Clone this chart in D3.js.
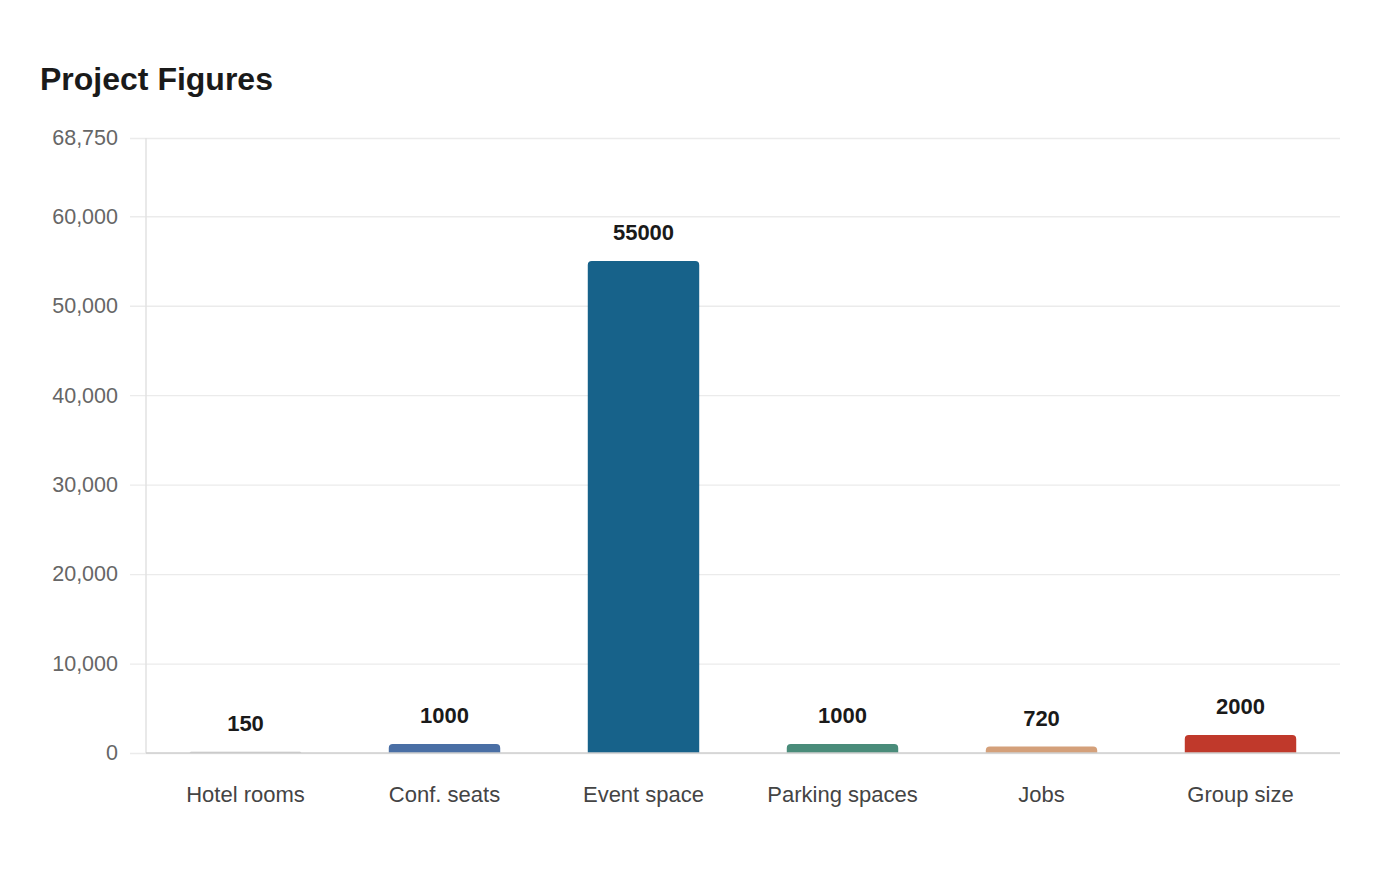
<!DOCTYPE html>
<html>
<head>
<meta charset="utf-8">
<script src="https://cdn.jsdelivr.net/npm/d3@7"></script>
<style>
  body { margin: 0; background: #fff; }
  svg { display: block; font-family: 'Liberation Sans', Arial, sans-serif; }
</style>
</head>
<body>
<svg id="chart" width="1400" height="880"></svg>
<script>
var categories = ['Hotel rooms', 'Conf. seats', 'Event space', 'Parking spaces', 'Jobs', 'Group size']
  , values = [150, 1000, 55000, 1000, 720, 2000]
  , colors = ['#bdbdbd', '#4a6fa5', '#17628a', '#4a8c7a', '#d4a07a', '#c0392b']
  , yTicks = [0, 10000, 20000, 30000, 40000, 50000, 60000, 68750]

var margin = {top: 138, right: 60, bottom: 127, left: 146}
  , width = 1400 - margin.left - margin.right
  , height = 880 - margin.top - margin.bottom

var svg = d3.select('#chart')

svg.append('text')
  .attr('x', 40)
  .attr('y', 90)
  .attr('font-size', '32px')
  .attr('font-weight', 'bold')
  .attr('fill', '#1a1a1a')
  .text('Project Figures')

var g = svg.append('g')
  .attr('transform', 'translate(' + margin.left + ',' + margin.top + ')')

var x = d3.scaleBand()
  .domain(categories)
  .range([0, width])
  .paddingInner(0.44)
  .paddingOuter(0.22)

var y = d3.scaleLinear()
  .domain([0, 68750])
  .range([height, 0])

// grid + y labels
var yAxis = g.append('g')
  .call(d3.axisLeft(y)
    .tickValues(yTicks)
    .tickSize(-width - 16)
    .tickPadding(12)
    .tickFormat(d3.format(',')))
  .attr('transform', 'translate(-16,0)')

yAxis.select('.domain').remove()
yAxis.selectAll('.tick line')
  .attr('stroke', '#ebebeb')
  .attr('stroke-width', 1.3)
yAxis.selectAll('.tick text')
  .attr('fill', '#666')
  .attr('font-size', '21.5px')
  .attr('font-family', 'Liberation Sans, Arial, sans-serif')

g.append('line')
  .attr('x1', 0).attr('x2', 0)
  .attr('y1', 0).attr('y2', height)
  .attr('stroke', '#e2e2e2')
  .attr('stroke-width', 1.5)

// bars with rounded tops
function barPath(d, i) {
  var x0 = x(categories[i])
    , w = x.bandwidth()
    , y0 = y(d)
    , h = height - y0
    , r = Math.min(4, h)
  return 'M' + x0 + ',' + height +
    'V' + (y0 + r) +
    'Q' + x0 + ',' + y0 + ' ' + (x0 + r) + ',' + y0 +
    'H' + (x0 + w - r) +
    'Q' + (x0 + w) + ',' + y0 + ' ' + (x0 + w) + ',' + (y0 + r) +
    'V' + height + 'Z'
}

g.selectAll('.bar')
  .data(values)
  .enter()
    .append('path')
    .attr('class', 'bar')
    .attr('d', barPath)
    .attr('fill', function(d, i) { return colors[i] })

g.selectAll('.value')
  .data(values)
  .enter()
    .append('text')
    .attr('class', 'value')
    .attr('x', function(d, i) { return x(categories[i]) + x.bandwidth() / 2 })
    .attr('y', function(d) { return y(d) - 21 })
    .attr('text-anchor', 'middle')
    .attr('font-size', '22px')
    .attr('font-weight', 'bold')
    .attr('fill', '#1a1a1a')
    .text(function(d) { return d })

// x axis
g.append('line')
  .attr('x1', 0).attr('x2', width)
  .attr('y1', height).attr('y2', height)
  .attr('stroke', '#cfcfcf')
  .attr('stroke-width', 1.5)

g.selectAll('.cat')
  .data(categories)
  .enter()
    .append('text')
    .attr('class', 'cat')
    .attr('x', function(d) { return x(d) + x.bandwidth() / 2 })
    .attr('y', height + 49)
    .attr('text-anchor', 'middle')
    .attr('font-size', '22px')
    .attr('fill', '#444')
    .text(function(d) { return d })
</script>
</body>
</html>
